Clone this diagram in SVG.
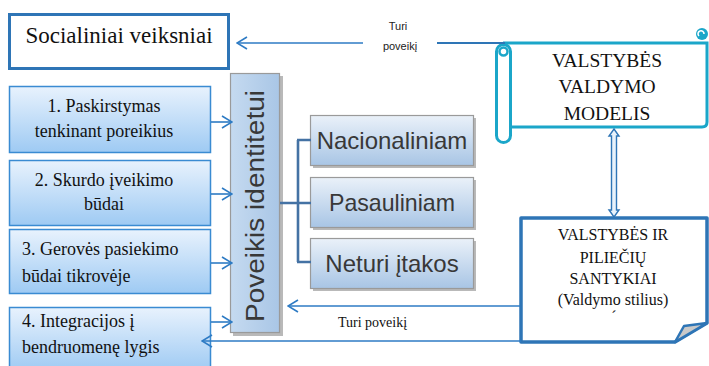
<svg xmlns="http://www.w3.org/2000/svg" width="709" height="366" viewBox="0 0 709 366">
<style>
.serif{font-family:'Liberation Serif','Times New Roman','DejaVu Serif',serif;fill:#111}
.sans{font-family:'Liberation Sans',Arial,sans-serif}
.lbox{fill:url(#gBlue);stroke:#3a8bd2;stroke-width:1.5}
.gbox{fill:url(#gGray);stroke:#9a9a9a;stroke-width:1.2}
.shadow{fill:#b9b9b9}
.conn{fill:none;stroke:#2E7BC4;stroke-width:1.6}
.brk{fill:none;stroke:#4472a4;stroke-width:2.6}
.gtxt{font-family:'Liberation Sans',Arial,sans-serif;fill:#383838;font-size:24px;text-anchor:middle}
</style>
<defs>
<linearGradient id="gBlue" x1="0" y1="0" x2="0" y2="1">
<stop offset="0" stop-color="#e8f2fd"/>
<stop offset="1" stop-color="#9ecaf3"/>
</linearGradient>
<linearGradient id="gGray" x1="0" y1="0" x2="0" y2="1">
<stop offset="0" stop-color="#eaf1f9"/>
<stop offset="1" stop-color="#a8c5e5"/>
</linearGradient>
<linearGradient id="gVert" x1="0" y1="0" x2="1" y2="0">
<stop offset="0" stop-color="#c5daf0"/>
<stop offset="1" stop-color="#a9c6e6"/>
</linearGradient>
<marker id="arr" viewBox="0 0 12 14" refX="11" refY="7" markerWidth="12" markerHeight="14" markerUnits="userSpaceOnUse" orient="auto">
<path d="M1,1 L11,7 L1,13" fill="none" stroke="#2E7BC4" stroke-width="1.6"/>
</marker>
</defs>
<rect width="709" height="366" fill="#ffffff"/>

<g id="socialiniai">
<rect x="9.5" y="14.5" width="219" height="54" fill="#fff" stroke="#2E75B6" stroke-width="3"/>
<text class="serif" font-family="Liberation Serif, Times New Roman, serif" x="119" y="43" font-size="23" text-anchor="middle">Socialiniai veiksniai</text>
</g>

<g id="box1">
<rect class="lbox" x="9.5" y="86.5" width="201" height="66"/>
<text class="serif" font-size="18" text-anchor="middle" x="104" y="112">1. Paskirstymas</text>
<text class="serif" font-size="18" text-anchor="middle" x="104" y="137">tenkinant poreikius</text>
</g>
<g id="box2">
<rect class="lbox" x="9.5" y="160.5" width="201" height="65"/>
<text class="serif" font-size="18" text-anchor="middle" x="104" y="186">2. Skurdo įveikimo</text>
<text class="serif" font-size="18" text-anchor="middle" x="104" y="210">būdai</text>
</g>
<g id="box3">
<rect class="lbox" x="9.5" y="229.5" width="201" height="64"/>
<text class="serif" font-size="18" x="22" y="255">3. Gerovės pasiekimo</text>
<text class="serif" font-size="18" x="22" y="282">būdai tikrovėje</text>
</g>
<g id="box4">
<rect class="lbox" x="9.5" y="307.5" width="201" height="64"/>
<text class="serif" font-size="18" x="22" y="327">4. Integracijos į</text>
<text class="serif" font-size="18" x="22" y="353">bendruomenę lygis</text>
</g>

<g id="poveikis">
<rect class="shadow" x="233" y="76" width="50" height="260"/>
<rect x="230.5" y="73.5" width="49" height="259" fill="url(#gVert)" stroke="#9a9a9a" stroke-width="1.2"/>
<text transform="translate(264,206) rotate(-90)" font-family="Liberation Sans, Arial, sans-serif" font-size="26" fill="#383838" text-anchor="middle" textLength="232" lengthAdjust="spacingAndGlyphs">Poveikis identitetui</text>
</g>

<g id="nacionaliniam">
<rect class="shadow" x="313" y="118" width="163" height="50"/>
<rect class="gbox" x="310.5" y="115.5" width="163" height="50"/>
<text class="gtxt" x="392" y="149">Nacionaliniam</text>
</g>
<g id="pasauliniam">
<rect class="shadow" x="313" y="180" width="163" height="50"/>
<rect class="gbox" x="310.5" y="177.5" width="163" height="50"/>
<text class="gtxt" x="392" y="211" textLength="126" lengthAdjust="spacingAndGlyphs">Pasauliniam</text>
</g>
<g id="neturi">
<rect class="shadow" x="313" y="241" width="163" height="50"/>
<rect class="gbox" x="310.5" y="238.5" width="163" height="50"/>
<text class="gtxt" x="392" y="272">Neturi įtakos</text>
</g>

<g id="modelis">
<path d="M503,43 H707 V122 Q707,127 702,127 H511" fill="#fff" stroke="#1BA6C9" stroke-width="3"/>
<rect x="496.5" y="44.5" width="14" height="98" rx="7" fill="#fff" stroke="#1BA6C9" stroke-width="3"/>
<circle cx="503.5" cy="51.5" r="4" fill="#fff" stroke="#1BA6C9" stroke-width="2.5"/>
<circle cx="702" cy="34" r="6" fill="#1BA6C9"/>
<path d="M699,36 A3,3 0 1 1 704,34" fill="none" stroke="#fff" stroke-width="1.6"/>
<text class="serif" font-size="19.5" text-anchor="middle" x="607" y="67">VALSTYBĖS</text>
<text class="serif" font-size="19.5" text-anchor="middle" x="607" y="93">VALDYMO</text>
<text class="serif" font-size="19.5" text-anchor="middle" x="607" y="120">MODELIS</text>
</g>

<g id="santykiai">
<path d="M521,218 H707 V323 L675,342 H521 Z" fill="#fff" stroke="#2E75B6" stroke-width="3.5" stroke-linejoin="round"/>
<path d="M675,342 L684,326 L707,323 Z" fill="#c9c9c9" stroke="#2E75B6" stroke-width="2.5" stroke-linejoin="round"/>
<text class="serif" font-size="16" text-anchor="middle" x="613" y="240">VALSTYBĖS IR</text>
<text class="serif" font-size="16" text-anchor="middle" x="613" y="263">PILIEČIŲ</text>
<text class="serif" font-size="16" text-anchor="middle" x="613" y="284">SANTYKIAI</text>
<text class="serif" font-size="16" text-anchor="middle" x="613" y="305">(Valdymo stilius)</text>
<text class="serif" font-size="16" text-anchor="middle" x="614" y="322">´</text>
</g>

<g id="connectors">
<line class="conn" x1="363" y1="43" x2="237" y2="43" marker-end="url(#arr)"/>
<line x1="437" y1="43" x2="505" y2="43" stroke="#2E75B6" stroke-width="2"/>
<text class="sans" font-size="11" fill="#222" text-anchor="middle" x="398" y="30">Turi</text>
<text class="sans" font-size="11" fill="#222" text-anchor="middle" x="400" y="50">poveikį</text>
<line class="conn" x1="211" y1="122" x2="232" y2="122" marker-end="url(#arr)"/>
<line class="conn" x1="211" y1="194" x2="232" y2="194" marker-end="url(#arr)"/>
<line class="conn" x1="211" y1="263" x2="232" y2="263" marker-end="url(#arr)"/>
<line class="conn" x1="211" y1="322" x2="232" y2="322" marker-end="url(#arr)"/>
<line class="conn" x1="520" y1="306" x2="288" y2="306" marker-end="url(#arr)"/>
<text class="serif" font-size="14" x="338" y="327">Turi poveikį</text>
<line class="conn" x1="521" y1="341" x2="202" y2="341" marker-end="url(#arr)"/>
<path class="brk" d="M280,203 H298 M298,140 V262 M297,140 H311 M298,203 H311 M297,262 H311"/>
<path d="M614,129 L619,136 L616.5,136 L616.5,210 L619,210 L614,217 L609,210 L611.5,210 L611.5,136 L609,136 Z" fill="#e8f2fb" stroke="#2E75B6" stroke-width="1.4"/>
</g>
</svg>
